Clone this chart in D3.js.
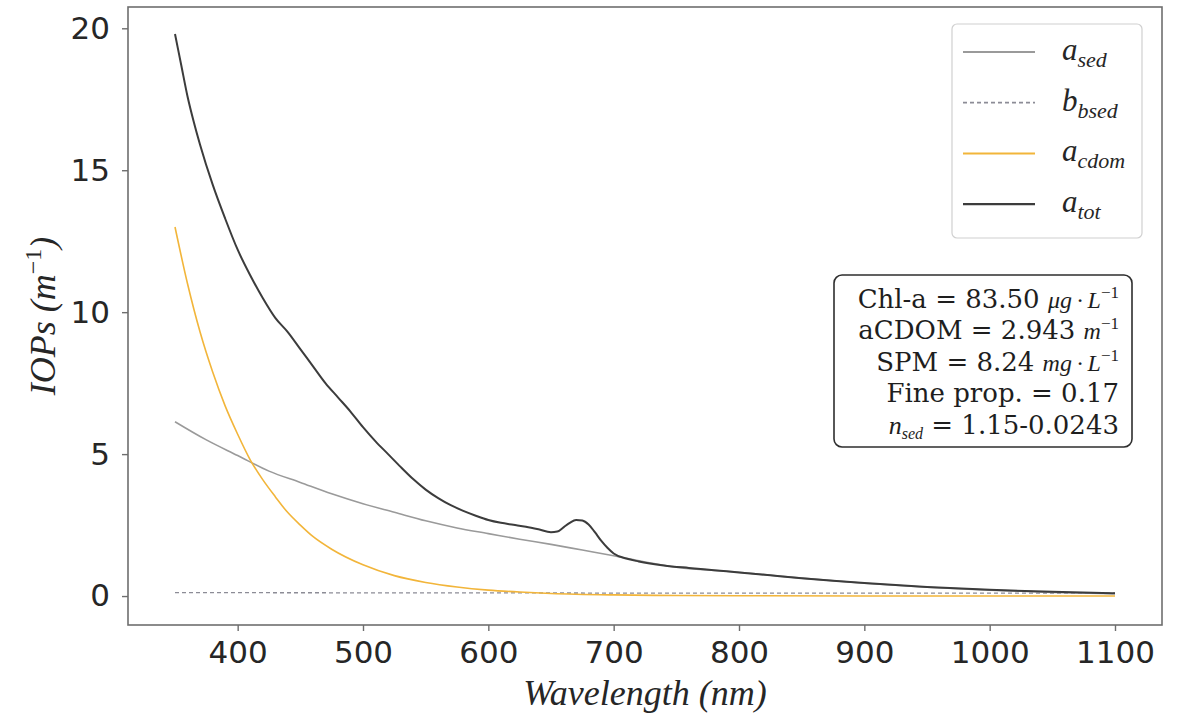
<!DOCTYPE html>
<html>
<head>
<meta charset="utf-8">
<script src="https://cdn.jsdelivr.net/npm/d3@7"></script>
<style>
  body { margin: 0; background: #fff; }
  svg { display: block; }
</style>
</head>
<body>
<svg id="chart" width="1186" height="718"></svg>
<script>
// ---- data ----
const xTicks = [400, 500, 600, 700, 800, 900, 1000, 1100];
const yTicks = [0, 5, 10, 15, 20];

// sediment absorption a_sed (m^-1)
const sedWl  = [350, 375, 400, 425, 450, 475, 500, 525, 550, 575, 600, 625, 650, 675, 700, 725, 750, 800, 850, 900, 950, 1000, 1050, 1100];
const sedAbs = [6.14, 5.5, 4.95, 4.4, 4.0, 3.6, 3.25, 2.95, 2.65, 2.4, 2.2, 2.0, 1.82, 1.62, 1.42, 1.2, 1.02, 0.84, 0.63, 0.45, 0.31, 0.21, 0.13, 0.08];

// sediment backscattering b_bsed (m^-1)
const bbWl   = [350, 600, 850, 1100];
const bbVals = [0.12, 0.11, 0.1, 0.1];

// CDOM absorption a_cdom (m^-1)
const cdomWl  = [350, 360, 370, 380, 390, 400, 410, 420, 430, 440, 450, 460, 475, 500, 525, 550, 575, 600, 625, 650, 700, 750, 800, 900, 1000, 1100];
const cdomAbs = [13.0, 11.0, 9.3, 7.9, 6.7, 5.7, 4.8, 4.1, 3.5, 2.94, 2.5, 2.1, 1.65, 1.1, 0.72, 0.48, 0.32, 0.21, 0.14, 0.09, 0.04, 0.02, 0.01, 0.0, 0.0, 0.0];

// total absorption a_tot (m^-1)
const totWl  = [350, 355, 360, 365, 370, 380, 390, 400, 410, 420, 430, 440, 450, 460, 470, 480, 490, 500, 510, 520, 530, 540, 550, 560, 570, 580, 590, 600, 610, 620, 630, 640, 650, 655, 660, 665, 670, 675, 680, 685, 690, 695, 700, 710, 720, 740, 760, 780, 800, 825, 850, 875, 900, 950, 1000, 1050, 1100];
const totAbs = [19.8, 18.7, 17.6, 16.7, 15.9, 14.5, 13.3, 12.2, 11.3, 10.5, 9.8, 9.3, 8.7, 8.1, 7.5, 7.0, 6.5, 5.95, 5.45, 5.0, 4.55, 4.12, 3.75, 3.45, 3.2, 3.0, 2.83, 2.68, 2.58, 2.51, 2.44, 2.35, 2.25, 2.27, 2.42, 2.58, 2.68, 2.66, 2.52, 2.25, 1.95, 1.7, 1.5, 1.32, 1.22, 1.08, 0.99, 0.91, 0.83, 0.73, 0.63, 0.54, 0.46, 0.32, 0.22, 0.15, 0.1];

const legendBase = ["a", "b", "a", "a"];
const legendSub  = ["sed", "bsed", "cdom", "tot"];

// ---- layout ----
const svg = d3.select("#chart");
const mLeft = 128, mRight = 1162, mTop = 7, mBottom = 625;

const x = d3.scaleLinear().domain([312.5, 1137.5]).range([mLeft, mRight]);
const y = d3.scaleLinear().domain([-1.02, 20.75]).range([mBottom, mTop]);

const series = [
  { wl: sedWl,  v: sedAbs,  color: "#9a9a9a", width: 1.6, dash: null },
  { wl: bbWl,   v: bbVals,  color: "#8c8c96", width: 1.3, dash: "4,3" },
  { wl: cdomWl, v: cdomAbs, color: "#f2b53a", width: 1.6, dash: null },
  { wl: totWl,  v: totAbs,  color: "#3c3c3c", width: 2.0, dash: null }
];

const line = d3.line()
  .x(d => x(d[0]))
  .y(d => y(d[1]))
  .curve(d3.curveMonotoneX);

const plot = svg.append("g");
series.forEach(s => {
  plot.append("path")
    .datum(s.wl.map((w, i) => [w, s.v[i]]))
    .attr("d", line)
    .attr("fill", "none")
    .attr("stroke", s.color)
    .attr("stroke-width", s.width)
    .attr("stroke-dasharray", s.dash)
    .attr("stroke-linejoin", "round");
});

// frame
svg.append("rect")
  .attr("x", mLeft).attr("y", mTop)
  .attr("width", mRight - mLeft).attr("height", mBottom - mTop)
  .attr("fill", "none").attr("stroke", "#6e6e6e").attr("stroke-width", 1.6);

// axes
const tickFont = "'DejaVu Sans', sans-serif";
const xAxis = svg.append("g")
  .attr("transform", `translate(0,${mBottom})`)
  .call(d3.axisBottom(x).tickValues(xTicks).tickSize(6).tickPadding(10).tickFormat(d3.format("d")));
const yAxis = svg.append("g")
  .attr("transform", `translate(${mLeft},0)`)
  .call(d3.axisLeft(y).tickValues(yTicks).tickSize(6).tickPadding(12).tickFormat(d3.format("d")));
[xAxis, yAxis].forEach(g => {
  g.select(".domain").remove();
  g.selectAll(".tick line").attr("stroke", "#6e6e6e").attr("stroke-width", 1.4);
  g.selectAll(".tick text")
    .attr("fill", "#262626")
    .style("font-family", tickFont)
    .style("font-size", "31px");
});

// axis titles
const mathFont = "'Liberation Serif', 'Times New Roman', serif";
const xt = svg.append("text")
  .attr("x", (mLeft + mRight) / 2).attr("y", 705)
  .attr("text-anchor", "middle")
  .style("font-family", mathFont).style("font-size", "36px").style("font-style", "italic")
  .attr("fill", "#262626");
xt.append("tspan").text("Wavelength (nm)");

const yt = svg.append("text")
  .attr("transform", `translate(55,${(mTop + mBottom) / 2}) rotate(-90)`)
  .attr("text-anchor", "middle")
  .style("font-family", mathFont).style("font-size", "36px")
  .attr("fill", "#262626");
yt.append("tspan").style("font-style", "italic").text("IOPs (m");
yt.append("tspan").attr("dy", -14).style("font-size", "24px").text("−1");
yt.append("tspan").attr("dy", 14).style("font-style", "italic").text(")");

// legend
const lg = svg.append("g");
lg.append("rect")
  .attr("x", 952).attr("y", 24).attr("width", 190).attr("height", 214)
  .attr("rx", 5)
  .attr("fill", "#fff").attr("fill-opacity", 0.85)
  .attr("stroke", "#d0d0d0").attr("stroke-width", 1.2);
series.forEach((s, i) => {
  const cy = 52 + i * 50.7;
  lg.append("line")
    .attr("x1", 963).attr("x2", 1035).attr("y1", cy).attr("y2", cy)
    .attr("stroke", s.color).attr("stroke-width", s.width + 0.4)
    .attr("stroke-dasharray", s.dash);
  const t = lg.append("text")
    .attr("x", 1062).attr("y", cy + 8)
    .style("font-family", mathFont).style("font-style", "italic")
    .style("font-size", "31px").attr("fill", "#262626");
  t.append("tspan").text(legendBase[i]);
  t.append("tspan").attr("dy", 7).style("font-size", "22px").text(legendSub[i]);
});

// information box
const ib = svg.append("g");
ib.append("rect")
  .attr("x", 834).attr("y", 275).attr("width", 298).attr("height", 172)
  .attr("rx", 8)
  .attr("fill", "#fff").attr("stroke", "#2e2e2e").attr("stroke-width", 1.6);

const infoFont = "'DejaVu Serif', serif";
const textRight = 1119;
const baselines = [308, 339, 371, 402, 434];

function infoLine(yb) {
  return ib.append("text")
    .attr("x", textRight).attr("y", yb)
    .attr("text-anchor", "end")
    .style("font-family", infoFont).style("font-size", "26px")
    .attr("fill", "#1e1e1e");
}
function unit(t, main) {
  t.append("tspan").style("font-family", mathFont).style("font-style", "italic")
    .style("font-size", "24px").text(main);
}
function sup(t, s) {
  t.append("tspan").attr("dy", -10).style("font-family", mathFont)
    .style("font-size", "17px").text(s);
  t.append("tspan").attr("dy", 10).text("");
}

let t1 = infoLine(baselines[0]);
t1.append("tspan").text("Chl-a = 83.50 ");
unit(t1, "μg\u2009·\u2009L");
sup(t1, "−1");

let t2 = infoLine(baselines[1]);
t2.append("tspan").text("aCDOM = 2.943 ");
unit(t2, "m");
sup(t2, "−1");

let t3 = infoLine(baselines[2]);
t3.append("tspan").text("SPM = 8.24 ");
unit(t3, "mg\u2009·\u2009L");
sup(t3, "−1");

let t4 = infoLine(baselines[3]);
t4.append("tspan").text("Fine prop. = 0.17");

let t5 = infoLine(baselines[4]);
t5.append("tspan").style("font-family", mathFont).style("font-style", "italic").text("n");
t5.append("tspan").attr("dy", 5).style("font-family", mathFont).style("font-style", "italic")
  .style("font-size", "16px").text("sed");
t5.append("tspan").attr("dy", -5).text(" = 1.15-0.0243");
</script>
</body>
</html>
